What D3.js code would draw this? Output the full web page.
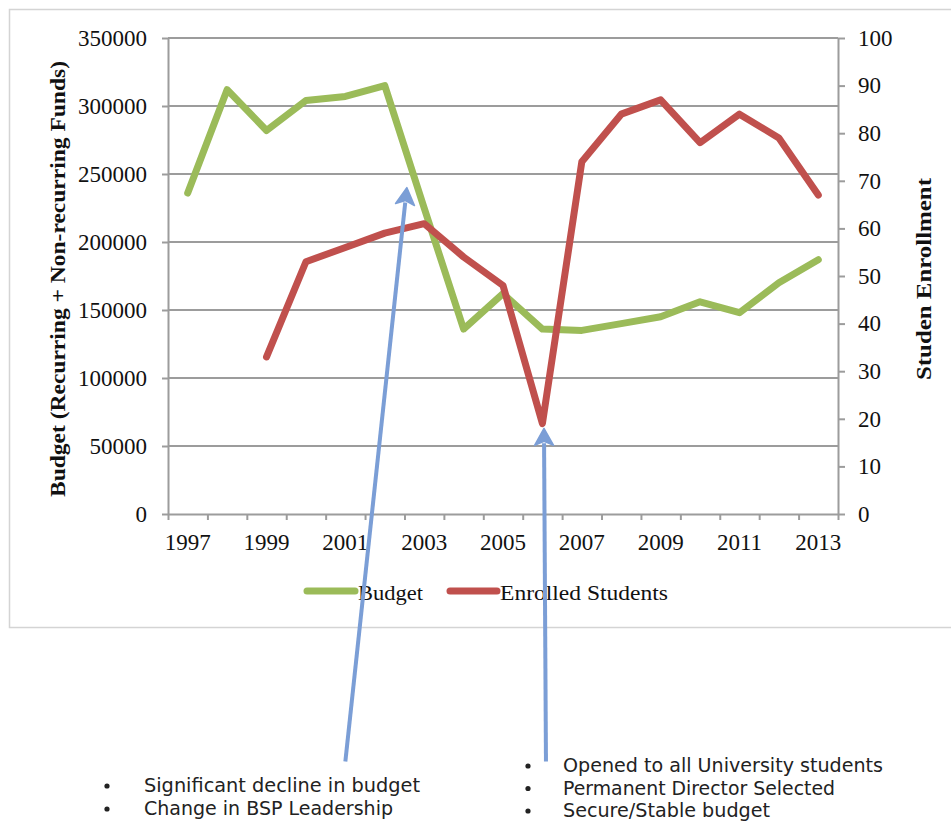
<!DOCTYPE html>
<html><head><meta charset="utf-8">
<script src="https://cdn.jsdelivr.net/npm/d3@7"></script>
<style>body{margin:0;background:#fff}svg{display:block}</style>
</head><body><svg id="c" width="951" height="823"></svg>
<script>
// ---- data ----
const years = [1997,1998,1999,2000,2001,2002,2003,2004,2005,2006,2007,2008,2009,2010,2011,2012,2013];
const budget = [236000,312000,282000,304000,307000,315000,225000,136000,162000,136000,135000,140000,145000,156000,148000,170000,187000];
const enrolled = [null,null,33,53,56,59,61,54,48,19,74,84,87,78,84,79,67];
const budgetTicks = [0,50000,100000,150000,200000,250000,300000,350000];
const enrollTicks = [0,10,20,30,40,50,60,70,80,90,100];
const yearLabels = [1997,1999,2001,2003,2005,2007,2009,2011,2013];
const seriesNames = ["Budget","Enrolled Students"];
const leftTitle = "Budget (Recurring + Non-recurring Funds)";
const rightTitle = "Studen Enrollment";
const notesLeft = ["Significant decline in budget","Change in BSP Leadership"];
const notesRight = ["Opened to all University students","Permanent Director Selected","Secure/Stable budget"];
// arrow annotations in data space: [year, value]
const arrowBudget = {from:[2001.0,-182000], to:[2002.56,240000]};
const arrowEnroll = {from:[2006.09,-52], to:[2006.04,18]};

// ---- layout ----
const L=168, R=838, T=38, B=514;
const green="#9bbb59", red="#c0504d", blue="#7b9ed6", grid="#9c9c9c";
const serif="'Liberation Serif','Times New Roman',serif";
const sans="'DejaVu Sans','Liberation Sans',sans-serif";

const svg = d3.select("#c");
svg.append("rect").attr("x",9.5).attr("y",9.5).attr("width",960).attr("height",618)
  .attr("fill","#fff").attr("stroke","#d4d4d4").attr("stroke-width",1.5);

const x = d3.scaleBand().domain(years).range([L,R]).padding(0);
const xLin = d3.scaleLinear().domain([years[0]-0.5, years[years.length-1]+0.5]).range([L,R]);
const yB = d3.scaleLinear().domain([0,350000]).range([B,T]);
const yE = d3.scaleLinear().domain([0,100]).range([B,T]);
const cx = d => x(d)+x.bandwidth()/2;

// gridlines
svg.append("g").selectAll("line").data(budgetTicks.filter(d=>d>0)).join("line")
  .attr("x1",L).attr("x2",R).attr("y1",d=>yB(d)).attr("y2",d=>yB(d))
  .attr("stroke",grid).attr("stroke-width",2);

function styleAxis(g){
  g.selectAll("path.domain").attr("stroke",grid).attr("stroke-width",2);
  g.selectAll(".tick line").attr("stroke",grid).attr("stroke-width",2);
  g.selectAll("text").attr("font-family",serif).attr("font-size",23).attr("fill","#111");
}
// left axis
svg.append("g").attr("transform",`translate(${L},0)`)
  .call(d3.axisLeft(yB).tickValues(budgetTicks).tickFormat(d3.format("d")).tickSize(6).tickSizeOuter(0).tickPadding(15))
  .call(styleAxis);
// right axis
svg.append("g").attr("transform",`translate(${R},0)`)
  .call(d3.axisRight(yE).tickValues(enrollTicks).tickFormat(d3.format("d")).tickSize(7).tickSizeOuter(0).tickPadding(13))
  .call(styleAxis);
// bottom axis: boundary ticks
const bounds = years.map(d=>d-0.5).concat([years[years.length-1]+0.5]);
svg.append("g").attr("transform",`translate(0,${B})`)
  .call(d3.axisBottom(xLin).tickValues(bounds).tickFormat("").tickSize(6).tickSizeOuter(0))
  .call(styleAxis);
// year labels
svg.append("g").selectAll("text").data(yearLabels).join("text")
  .attr("x",d=>cx(d)).attr("y",550).attr("text-anchor","middle")
  .attr("font-family",serif).attr("font-size",23).attr("fill","#111").text(d=>d);

// axis titles
svg.append("text").attr("transform","translate(65,279) rotate(-90)").attr("text-anchor","middle")
  .attr("font-family",serif).attr("font-weight","bold").attr("font-size",21)
  .attr("textLength",436).attr("lengthAdjust","spacingAndGlyphs").attr("fill","#111").text(leftTitle);
svg.append("text").attr("transform","translate(931,279) rotate(-90)").attr("text-anchor","middle")
  .attr("font-family",serif).attr("font-weight","bold").attr("font-size",21)
  .attr("textLength",202).attr("lengthAdjust","spacingAndGlyphs").attr("fill","#111").text(rightTitle);

// lines
const lineB = d3.line().x((d,i)=>cx(years[i])).y(d=>yB(d));
const lineE = d3.line().defined(d=>d!=null).x((d,i)=>cx(years[i])).y(d=>yE(d));
svg.append("path").datum(budget).attr("d",lineB).attr("fill","none").attr("stroke",green)
  .attr("stroke-width",7).attr("stroke-linejoin","round").attr("stroke-linecap","round");
svg.append("path").datum(enrolled).attr("d",lineE).attr("fill","none").attr("stroke",red)
  .attr("stroke-width",7).attr("stroke-linejoin","round").attr("stroke-linecap","round");

// legend
const leg = [{c:green,x1:307,x2:355,tx:358,tl:65},{c:red,x1:450,x2:497,tx:500,tl:168}];
leg.forEach((l,i)=>{
  svg.append("line").attr("x1",l.x1).attr("x2",l.x2).attr("y1",591).attr("y2",591)
    .attr("stroke",l.c).attr("stroke-width",7).attr("stroke-linecap","round");
  svg.append("text").attr("x",l.tx).attr("y",600).attr("font-family",serif).attr("font-size",22)
    .attr("textLength",l.tl).attr("lengthAdjust","spacingAndGlyphs").attr("fill","#111").text(seriesNames[i]);
});

// arrows
function arrow(x1,y1,x2,y2){
  const a=Math.atan2(y2-y1,x2-x1), hl=17, hw=9.5;
  const bx=x2-hl*Math.cos(a), by=y2-hl*Math.sin(a);
  const g=svg.append("g");
  g.append("line").attr("x1",x1).attr("y1",y1).attr("x2",bx+2*Math.cos(a)).attr("y2",by+2*Math.sin(a))
    .attr("stroke",blue).attr("stroke-width",4);
  const px=-Math.sin(a), py=Math.cos(a);
  g.append("polygon").attr("points",[[x2,y2],[bx+px*hw,by+py*hw],[bx+4*Math.cos(a),by+4*Math.sin(a)],[bx-px*hw,by-py*hw]].map(p=>p.join(",")).join(" "))
    .attr("fill",blue).attr("stroke",blue).attr("stroke-width",1.5).attr("stroke-linejoin","round");
}
arrow(xLin(arrowBudget.from[0]),yB(arrowBudget.from[1]),xLin(arrowBudget.to[0]),yB(arrowBudget.to[1]));
arrow(xLin(arrowEnroll.from[0]),yE(arrowEnroll.from[1]),xLin(arrowEnroll.to[0]),yE(arrowEnroll.to[1]));

// notes with bullets
const leftLens=[276,249], rightLens=[320,272,207];
function note(list, lens, bx, tx, y0, dy){
  list.forEach((t,i)=>{
    const y=y0+i*dy;
    svg.append("circle").attr("cx",bx).attr("cy",y-6).attr("r",2.6).attr("fill","#222");
    svg.append("text").attr("x",tx).attr("y",y).attr("font-family",sans).attr("font-size",19.5)
      .attr("textLength",lens[i]).attr("lengthAdjust","spacingAndGlyphs").attr("fill","#222").text(t);
  });
}
note(notesLeft, leftLens, 107, 144, 792, 23);
note(notesRight, rightLens, 528, 563, 772, 22.5);
</script></body></html>
